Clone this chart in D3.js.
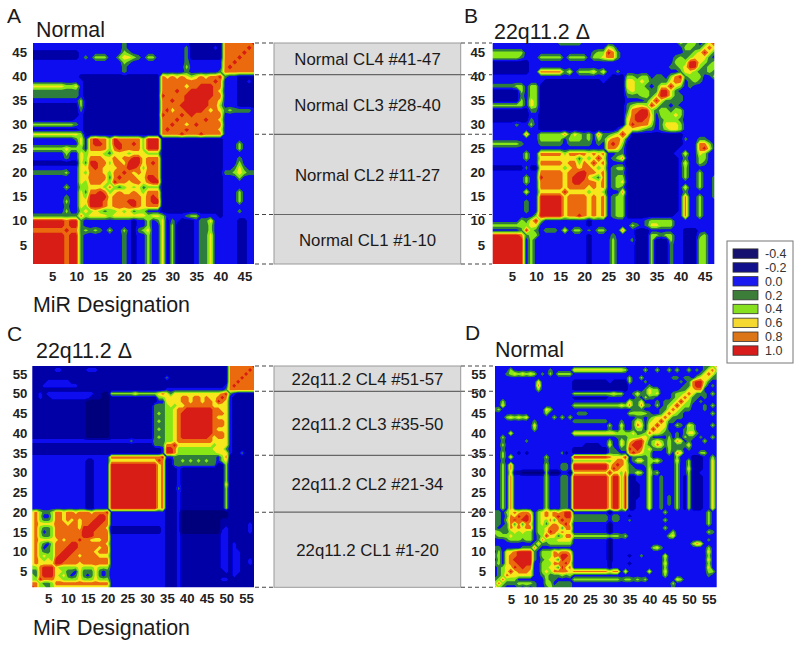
<!DOCTYPE html>
<html>
<head>
<meta charset="utf-8">
<script src="https://cdnjs.cloudflare.com/ajax/libs/d3/7.8.5/d3.min.js"></script>
<style>
body { margin: 0; background: #fff; }
text { font-family: "Liberation Sans", Arial, sans-serif; }
</style>
</head>
<body>
<div id="plot"></div>
<script>
var levelValues = [-0.4, -0.2, 0.0, 0.2, 0.4, 0.6, 0.8, 1.0];
var levelLabels = ["-0.4", "-0.2", "0.0", "0.2", "0.4", "0.6", "0.8", "1.0"];
var levelColors = ["#00007c", "#0000a6", "#0808f0", "#2f7d3c", "#86e612", "#f6e61e", "#ea6a10", "#d81c12"];
var swatchColors = ["#16106e", "#10108c", "#1a1af0", "#3d7d3a", "#86e020", "#f5d830", "#dc7418", "#d81c1c"];

var ticksA = [5, 10, 15, 20, 25, 30, 35, 40, 45];
var ticksC = [5, 10, 15, 20, 25, 30, 35, 40, 45, 50, 55];
var edgesTop = [47, 40.4, 28, 11.3, 1];
var edgesBottom = [57, 50.6, 34.4, 20, 1];
var namesTop = ["Normal CL4 #41-47", "Normal CL3 #28-40", "Normal CL2 #11-27", "Normal CL1 #1-10"];
var namesBottom = ["22q11.2 CL4 #51-57", "22q11.2 CL3 #35-50", "22q11.2 CL2 #21-34", "22q11.2 CL1 #1-20"];

// lower triangle of each matrix, one string per row (row 1 first), digit = index into levelValues
var rowsA = [
"7","77","777","7777","77777","777777","7777777","66666667","777777767","7777777677",
"3333333333 6",
"2222222422 45",
"2222222322 547",
"2222222422 5577",
"2222222322 54777",
"2222222222 536676",
"2222222422 4455546",
"2222222222 54666547",
"2222222222 556666367",
"3333333422 5466654667",
"2222222222 55676555667",
"1111111111 537766466577",
"2222222322 5466655656677",
"2222222422 54555435554555",
"4444444544 426666467666647",
"2222222222 5267764776676477",
"2222222223 52676647666664777",
"5555555555 41111111111111111 6",
"1111111111 21111111111111111 67",
"4444444443 21111111111111111 667",
"1111111112 21111111111111111 6667",
"1111111111 21111111111111111 76667",
"1111111111 31111111111111111 675667",
"1111111111 41111111111111111 6666777",
"2222222222 41111111111111111 66766777",
"3333333333 21111111111111111 766667777",
"3333333333 21111111111111111 6667667777",
"5555555445 21111111111111111 66666566777",
"2222222222 21111111111111111 666666666667",
"2222222222 11111111111111111 6565654565667",
"2222222222 22222222232222222 2222232222223 6",
"2222222222 22222222232222222 2222242222222 67",
"2222222222 22222222243222222 2222232222222 667",
"1111111111 23244422455432442 2222231111111 6667",
"1111111111 22222222243222222 2222231111111 66667",
"2222222222 22222222232222222 2222231111121 666667",
"2222222222 22222222232222222 2222221111111 6666667"
];

var rowsB = [
"7","77","777","7777","77777","777777","7777776","22222237","444444445","2222224357",
"2222222224 7",
"2222222322 77",
"2222222322 777",
"2222222322 7777",
"2222222222 77777",
"2222222522 555557",
"2222222222 6666656",
"2222222422 66666567",
"2222222422 766665677",
"2222222222 6666656677",
"1111111311 55555456566",
"2222222222 666665664657",
"2222222422 5555555535457",
"2222222422 66666466665656",
"2222222222 22222222222222 6",
"4444443222 33333233333232 67",
"2222222222 44444244434243 566",
"2222222622 44444635434263 3457",
"2222222222 11111111111111 1125 5",
"2222232242 11111111111111 1111 57",
"1111111132 11111111111111 1111 567",
"1111111122 11111111111111 1111 4677",
"1111111133 11111111111111 1111 36677",
"4444444254 11111111111111 1111 345547",
"1111114254 11111111111111 1111 2222357",
"1111113244 11111111111111 1111 33344357",
"1111114244 11111111111111 1111 454443377",
"3333344244 11111111111111 1111 5544323557",
"2222222222 21111111111112 1111 55454333356",
"2222222222 22222222222222 2111 443442332467",
"1111111122 66666352444535 2232 222222222223 5",
"1111111122 22222222222222 2222 222222222334 57",
"1111111122 22222222222222 2222 222222222244 477",
"4444443222 44444244442445 6632 222222222234 3455",
"4444444222 22222222222344 7632 222222222222 33457",
"2222222222 22222222222222 5422 222222222222 443356",
"2222222222 22223333322222 2222 222222222224 3442357"
];

var rowsC = [
"7","66","447","4367","33677","446777",
"565555 7",
"565454 77",
"564544 677",
"564334 6677",
"564234 66677",
"564324 666677",
"565555 5656667",
"564334 66666667",
"564234 666666677",
"564334 6666665777",
"565555 66656656677",
"564334 665656566677",
"564224 6656666666677",
"564334 66566566656667",
"22222222222222112222 7",
"22222222222222112222 77",
"22222222222222112222 777",
"22222222222222112222 7777",
"22222222222222112222 77777",
"22222222222222112222 777777",
"22222222222222112222 7777777",
"22222222222222112222 77777777",
"22222222222222112222 777777777",
"22222222222222112222 7777777777",
"22222222222222112222 77777777777",
"22222222222222112222 777777777777",
"22222222222222112222 555555555555 7",
"22222222222222222222 666666666666 67",
"11111111111111111111 11111111111112 7",
"11111111111111111111 11111111111112 77",
"11111111111111111111 11111111111333 667",
"22222222222222222222 22222322222333 4456",
"11111111111111000000 11111111111343 44567",
"11111111111111000000 11111111111333 445677",
"11111111111111000000 11111111111343 4456777",
"11111111111111000000 11111111111333 44567777",
"11111111111111000000 11111111111343 445677777",
"11111111111111000000 11111111111333 4456777777",
"11111111111111000000 11111111111343 44567777777",
"11111111111111000000 11111111111333 445667777777",
"11111111111111000000 11111111111333 4545566666665",
"11111111111111000000 11111111111122 55556656656657",
"11211222222222211100 11111111111144 555566566565567",
"11212222222222221100 44444454444456 5355555555555567",
"11111111111111111111 11111111111111 2222222222222223 6",
"11122222222211111111 11111111111111 1111111111111112 67",
"11112222221111111111 11111111111111 1111111111111111 667",
"11111111111111111111 11111111111111 3111111111111111 6667",
"11111111111111111111 11111111111111 1111111111111111 66667",
"11111122111111222111 11111111111111 1111111111111111 666667",
"11111111111111111111 11111111111111 1111111111111111 6666667"
];

var rowsD = [
"6","46","346","2346","23457","234557","3425667","24256777","342566777","2425567777",
"3322222333 6",
"2222222222 35",
"2223444344 236",
"3444544444 2347",
"4433454544 24457",
"3233656566 244566",
"3323636365 2453565",
"3324676776 24546367",
"3323657676 245656767",
"3324565665 2456565677",
"2242622222 2224222332 7",
"2242622222 2224222332 77",
"2242622222 2224222332 777",
"2242622222 2224222332 7777",
"2242622222 2224222332 77777",
"2242622222 2224222332 777777",
"2242622222 2224222332 7777777",
"2242622222 2224222332 77777777",
"2242622222 2224222332 777777777",
"2242511000 0004000220 555555555 7",
"2242622222 2224222332 777777777 57",
"2242622222 2224222332 777777777 567",
"2232222222 2223222222 444444444 4566",
"2242522222 2224222222 777777777 65557",
"2242221212 2222222312 111111111 33322 6",
"2232222222 2222222222 111111111 33233 76",
"2242222222 2222222222 222111122 52253 677",
"2232222232 2222222222 222222222 42253 5677",
"2242222222 2222222222 222222222 22333 44455",
"2222522222 2222222222 555555555 55444 453346",
"2222222222 4222222222 222222222 32242 2344257",
"2222222222 5222222222 222222222 42252 23652557",
"2222222222 3222222222 333333333 22232 235424557",
"2224545452 2222242424 222222222 22222 2233234556",
"2222222222 2224222222 233322222 22222 44444322356",
"3422222222 2225422222 222222222 22222 233322223356",
"2252222222 2222222222 444444444 44454 6336332423457",
"2242222222 2222222222 222222222 22222 53352223233457",
"2222222222 2222222222 111111111 22222 223243322223456",
"2222222222 2222222222 444444444 45442 2353354522234456",
"2222222222 2422222222 111111111 11111 22223544222223355",
"2222222222 2622222222 111111111 11111 222223222222223367",
"2222222222 2522222222 111111111 21111 4222322222222323677",
"2222222222 2222222222 222222222 22222 42242222222332332455",
"2223454545 4232424444 222222222 22222 222222222222222222356",
"2222422222 2222322222 555555555 55554 2222422422424224232356",
"2222222222 2222222222 222222222 22222 22222222222222222223346"
];

var svg = d3.select('#plot').append('svg')
	.attr('width', 800)
	.attr('height', 646)

svg.append('defs').append('filter').attr('id', 'soft')
	.append('feGaussianBlur').attr('stdDeviation', 0.6)

function drawPanel(id, rows, left, right, top, bottom, ticks, tickPad, xLabelY){
	var n = rows.length
	var x = d3.scaleLinear().domain([1, n]).range([left, right])
	var y = d3.scaleLinear().domain([1, n]).range([bottom, top])

	var clean = rows.map(function(r){ return r.replace(/ /g, '') })
	var flat = []
	for (var j = 0; j < n; j++){
		for (var i = 0; i < n; i++){
			var hi = Math.max(i, j), lo = Math.min(i, j)
			var ch = clean[hi][lo]
			flat.push(levelValues[ch === undefined ? 2 : +ch])
		}
	}

	var thresholds = d3.pairs(levelValues).map(function(p){ return (p[0] + p[1]) / 2 })
	var contours = d3.contours().size([n, n]).thresholds(thresholds)(flat)
	// contour grid has value k at k - 0.5
	var path = d3.geoPath(d3.geoTransform({
		point: function(px, py){ this.stream.point(x(px + 0.5), y(py + 0.5)) }
	}))

	svg.select('defs').append('clipPath').attr('id', 'clip' + id)
		.append('rect').attr('x', left).attr('y', top)
		.attr('width', right - left).attr('height', bottom - top)

	var g = svg.append('g').attr('clip-path', 'url(#clip' + id + ')')
		.append('g').attr('filter', 'url(#soft)')
	g.append('rect').attr('x', left - 3).attr('y', top - 3)
		.attr('width', right - left + 6).attr('height', bottom - top + 6)
		.attr('fill', levelColors[0])
	g.selectAll('path').data(contours).enter().append('path')
		.attr('d', path)
		.attr('fill', function(d, i){ return levelColors[i + 1] })

	var xAxis = d3.axisBottom(x).tickValues(ticks).tickSize(0).tickPadding(0)
	var yAxis = d3.axisLeft(y).tickValues(ticks).tickSize(0).tickPadding(tickPad)
	var ax = svg.append('g').attr('transform', 'translate(0,' + (xLabelY - 11) + ')').call(xAxis)
	var ay = svg.append('g').attr('transform', 'translate(' + left + ',0)').call(yAxis)
	ax.select('.domain').remove()
	ay.select('.domain').remove()
	svg.selectAll('.tick text')
		.attr('font-size', 13.2).attr('font-weight', 'bold').attr('fill', '#222')
		.style('font-family', '"Liberation Sans", Arial, sans-serif')
	return y
}

var yA = drawPanel('A', rowsA, 33, 254, 43, 264, ticksA, 6, 283)
var yB = drawPanel('B', rowsB, 492.7, 714.3, 43, 264, ticksA, 7.5, 283)
var yC = drawPanel('C', rowsC, 32.3, 254, 366, 587.3, ticksC, 5, 605)
var yD = drawPanel('D', rowsD, 495, 716.7, 366, 587.3, ticksC, 9, 606)

function drawBox(y, edges, names, rightEnd){
	var ys = edges.map(function(e){ return y(e) })
	svg.append('rect').attr('x', 274).attr('y', ys[0])
		.attr('width', 186.7).attr('height', ys[4] - ys[0])
		.attr('fill', '#dcdcdc').attr('stroke', '#9a9a9a').attr('stroke-width', 1)
	ys.forEach(function(v, i){
		if (i > 0 && i < 4){
			svg.append('line').attr('x1', 274).attr('x2', 460.7).attr('y1', v).attr('y2', v)
				.attr('stroke', '#666').attr('stroke-width', 1.2)
		}
		svg.append('line').attr('x1', 255).attr('x2', 274).attr('y1', v).attr('y2', v)
			.attr('stroke', '#444').attr('stroke-width', 1.1).attr('stroke-dasharray', '4,3')
		svg.append('line').attr('x1', 461).attr('x2', rightEnd).attr('y1', v).attr('y2', v)
			.attr('stroke', '#444').attr('stroke-width', 1.1).attr('stroke-dasharray', '4,3')
	})
	names.forEach(function(t, i){
		svg.append('text').attr('x', 367.5).attr('y', (ys[i] + ys[i + 1]) / 2 + 6.5)
			.attr('text-anchor', 'middle').attr('font-size', 16.8).attr('fill', '#1a1a1a').text(t)
	})
}
drawBox(yA, edgesTop, namesTop, 492)
drawBox(yC, edgesBottom, namesBottom, 494)

var heads = [
	["A", 7, 23, 21], ["B", 464, 23, 21], ["C", 7, 341, 21], ["D", 465, 340, 21],
	["Normal", 36, 37, 21.4], ["22q11.2 \u0394", 494, 39, 21.4],
	["22q11.2 \u0394", 36, 358, 21.4], ["Normal", 495, 357, 21.4],
	["MiR Designation", 33, 312, 21.4], ["MiR Designation", 33, 635, 21.4]
]
heads.forEach(function(h){
	svg.append('text').attr('x', h[1]).attr('y', h[2]).attr('font-size', h[3]).attr('fill', '#1a1a1a').text(h[0])
})

// colour key
svg.append('rect').attr('x', 727).attr('y', 241).attr('width', 66).attr('height', 122)
	.attr('fill', '#fff').attr('stroke', '#777').attr('stroke-width', 1)
var keyY = d3.scaleBand().domain(levelLabels).range([246.5, 357.3])
levelLabels.forEach(function(l, i){
	svg.append('rect').attr('x', 733).attr('y', keyY(l) + 2.4).attr('width', 25).attr('height', 9.4)
		.attr('fill', swatchColors[i]).attr('stroke', '#333').attr('stroke-width', 0.8)
	svg.append('text').attr('x', 765).attr('y', keyY(l) + 11.5)
		.attr('font-size', 12.5).attr('fill', '#333').text(l)
})
</script>
</body>
</html>
